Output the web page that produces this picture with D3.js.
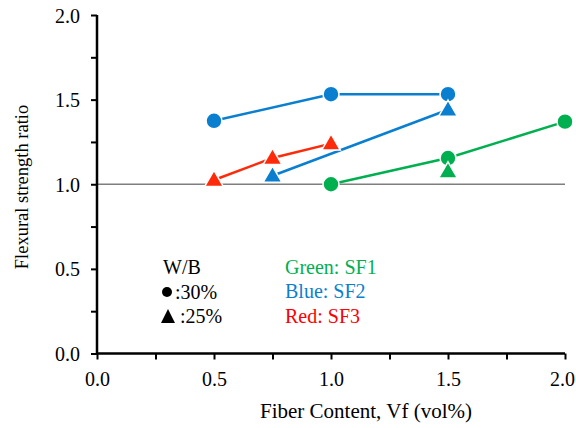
<!DOCTYPE html>
<html>
<head>
<meta charset="utf-8">
<script src="https://cdn.jsdelivr.net/npm/d3@7"></script>
<style>
  body { margin: 0; background: #fff; }
  svg, svg text { font-family: "Times New Roman", "Liberation Serif", Times, serif; }
</style>
</head>
<body>
<svg id="chart" width="576" height="428"></svg>
<script>
// fiber content (vol%) and flexural strength ratio
const sf1Circle = [[1.0, 1.00], [1.5, 1.155], [2.0, 1.37]];
const sf1Triangle = [[1.5, 1.075]];
const sf2Circle = [[0.5, 1.375], [1.0, 1.532], [1.5, 1.532]];
const sf2Triangle = [[0.75, 1.05], [1.5, 1.44]];
const sf3Triangle = [[0.5, 1.025], [0.75, 1.155], [1.0, 1.24]];

const xTicks = [0, 0.5, 1.0, 1.5, 2.0];
const yTicks = [0, 0.5, 1.0, 1.5, 2.0];
const minorTicks = [0.25, 0.75, 1.25, 1.75];

const GREEN = '#00b050';
const BLUE = '#0a7fcf';
const RED = '#ff2a0a';
const FONT = '"Times New Roman", "Liberation Serif", Times, serif';

const svg = d3.select('#chart').attr('font-family', FONT);
const x = d3.scaleLinear().domain([0, 2]).range([97, 565]);
const y = d3.scaleLinear().domain([0, 2]).range([353.5, 15]);

// reference line at ratio 1.0
svg.append('line')
  .attr('x1', x(0)).attr('x2', x(2))
  .attr('y1', y(1)).attr('y2', y(1))
  .attr('stroke', '#7f7f7f')
  .attr('stroke-width', 1.5);

// axes
const xAxis = d3.axisBottom(x).tickValues(xTicks.concat(minorTicks))
  .tickSize(6).tickFormat(d => xTicks.includes(d) ? d.toFixed(1) : '');
const yAxis = d3.axisLeft(y).tickValues(yTicks.concat(minorTicks))
  .tickSize(6).tickFormat(d => yTicks.includes(d) ? d.toFixed(1) : '');

const gx = svg.append('g').attr('transform', `translate(0,${y(0)})`).call(xAxis);
const gy = svg.append('g').attr('transform', `translate(${x(0)},0)`).call(yAxis);

[gx, gy].forEach(g => {
  g.attr('font-family', FONT).attr('font-size', 20);
  g.select('.domain').attr('stroke', '#000').attr('stroke-width', 2.5);
  g.selectAll('.tick line').attr('stroke', '#000').attr('stroke-width', 2);
  g.selectAll('.tick text').attr('fill', '#000');
});
gx.select('.domain').attr('d', `M${x(0)},0H${x(2)}`);
gy.select('.domain').attr('d', `M0,${y(0)}V${y(2)}`);
gx.selectAll('.tick text').attr('dy', '0.71em').attr('y', 18);
// last label sits at the right edge; nudge it in so it stays readable
gx.selectAll('.tick text').filter(d => d === 2).attr('x', -3);
gy.selectAll('.tick text').attr('x', -17).attr('dy', '0.35em');

// axis titles
svg.append('text')
  .attr('x', 366).attr('y', 418)
  .attr('text-anchor', 'middle')
  .attr('font-size', 21)
  .text('Fiber Content, Vf (vol%)');
svg.append('text')
  .attr('transform', `translate(28,187) rotate(-90)`)
  .attr('text-anchor', 'middle')
  .attr('font-size', 18.5)
  .text('Flexural strength ratio');

// series
const line = d3.line().x(d => x(d[0])).y(d => y(d[1]));
const series = [
  { data: sf2Circle, color: BLUE, shape: 'circle' },
  { data: sf3Triangle, color: RED, shape: 'triangle' },
  { data: sf2Triangle, color: BLUE, shape: 'triangle' },
  { data: sf1Circle, color: GREEN, shape: 'circle' },
  { data: sf1Triangle, color: GREEN, shape: 'triangle' }
];

series.forEach(s => {
  if (s.data.length > 1) {
    svg.append('path')
      .attr('d', line(s.data))
      .attr('fill', 'none')
      .attr('stroke', s.color)
      .attr('stroke-width', 2.5);
  }
});

const circleSym = d3.symbol().type(d3.symbolCircle).size(200);
const triSym = d3.symbol().type(d3.symbolTriangle).size(150);

series.forEach(s => {
  svg.selectAll(null)
    .data(s.data)
    .enter()
    .append('path')
    .attr('transform', d => `translate(${x(d[0])},${y(d[1]) + (s.shape === 'triangle' ? 1 : 0)})`)
    .attr('d', s.shape === 'circle' ? circleSym() : triSym())
    .attr('fill', s.color)
    .attr('stroke', '#fff')
    .attr('stroke-width', 1.5);
});

// legend
const legend = svg.append('g').attr('font-size', 20);
legend.append('text').attr('x', 163).attr('y', 274).text('W/B');
legend.append('circle').attr('cx', 167).attr('cy', 292).attr('r', 5).attr('fill', '#000');
legend.append('text').attr('x', 175).attr('y', 299).text(':30%');
legend.append('path')
  .attr('d', 'M161,323L168,309L175,323Z')
  .attr('fill', '#000');
legend.append('text').attr('x', 180).attr('y', 323).text(':25%');
legend.append('text').attr('x', 285).attr('y', 274).attr('fill', GREEN).text('Green: SF1');
legend.append('text').attr('x', 285).attr('y', 298).attr('fill', BLUE).text('Blue: SF2');
legend.append('text').attr('x', 285).attr('y', 323).attr('fill', '#ff0000').text('Red: SF3');
</script>
</body>
</html>
